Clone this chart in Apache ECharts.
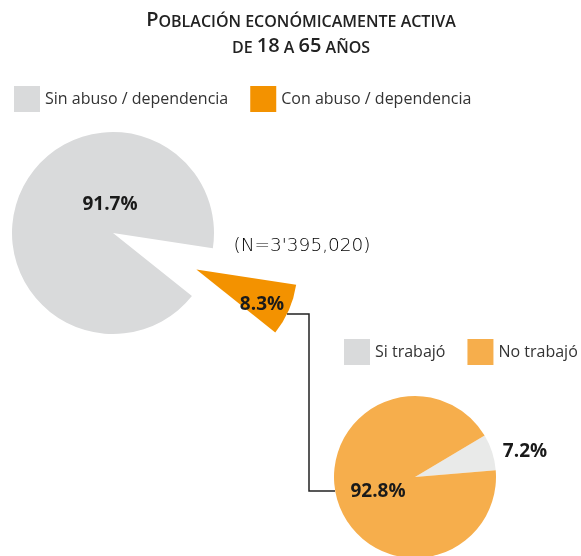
<!DOCTYPE html>
<html><head><meta charset="utf-8">
<script src="https://cdn.jsdelivr.net/npm/echarts@6/dist/echarts.min.js"></script>
<style>html,body{margin:0;padding:0;background:#fff}#c{width:581px;height:556px}</style>
</head><body><div id="c"></div>
<script>
const mainCategories = ['Sin abuso / dependencia', 'Con abuso / dependencia'];
const mainValues = [91.7, 8.3];
const subCategories = ['Si trabajó', 'No trabajó'];
const subValues = [7.2, 92.8];
const totalNote = "(N=3'395,020)";

const mainColors = ['#d9dadb', '#f39200'];
const subColors = ['#e9eae9', '#f6ae4c'];
const subLegendColors = ['#d9dadb', '#f6ae4c'];
const FONT = '"Open Sans", "Noto Sans", sans-serif';

const chart = echarts.init(document.getElementById('c'), null, {renderer: 'canvas'});
const labelStyle = {fontFamily: FONT, fontSize: 19, fontWeight: 'bold', fill: '#1a1a1a', textAlign: 'center', textVerticalAlign: 'middle'};

chart.setOption({
  animation: false,
  backgroundColor: '#fff',
  legend: [
    {
      left: 14, top: 86, padding: 0, width: 560, orient: 'horizontal', icon: 'rect', itemWidth: 26, itemHeight: 26, itemGap: 22,
      selectedMode: false,
      textStyle: {fontFamily: FONT, fontSize: 16, color: '#333'},
      data: mainCategories.map((n, i) => ({name: n, itemStyle: {color: mainColors[i]}}))
    },
    {
      left: 344, top: 339, padding: 0, width: 300, orient: 'horizontal', icon: 'rect', itemWidth: 26, itemHeight: 26, itemGap: 22,
      selectedMode: false,
      textStyle: {fontFamily: FONT, fontSize: 16, color: '#333'},
      data: subCategories.map((n, i) => ({name: n, itemStyle: {color: subLegendColors[i]}}))
    }
  ],
  series: [
    {
      type: 'pie', name: 'main', center: [113, 233], radius: 101, startAngle: -38.6,
      clockwise: true, selectedMode: 'single', selectedOffset: 91, avoidLabelOverlap: false,
      label: {show: false}, labelLine: {show: false}, emphasis: {disabled: true},
      data: mainCategories.map((n, i) => ({name: n, value: mainValues[i], selected: i === 1, itemStyle: {color: mainColors[i]}}))
    },
    {
      type: 'pie', name: 'sub', center: [415, 477], radius: 81, startAngle: 30.75,
      clockwise: true, label: {show: false}, labelLine: {show: false}, emphasis: {disabled: true},
      data: subCategories.map((n, i) => ({name: n, value: subValues[i], itemStyle: {color: subColors[i]}}))
    }
  ],
  graphic: [
    {
      type: 'text', x: 301, y: 30, z: 100,
      style: {
        text: '{b|P}{s|OBLACIÓN ECONÓMICAMENTE ACTIVA}\n{s|DE }{b|18}{s| A }{b|65}{s| AÑOS}',
        textAlign: 'center', textVerticalAlign: 'middle', fill: '#222',
        rich: {
          b: {fontFamily: FONT, fontSize: 20, fontWeight: 600, color: '#222', lineHeight: 26, verticalAlign: 'bottom'},
          s: {fontFamily: FONT, fontSize: 16, fontWeight: 600, color: '#222', lineHeight: 26, verticalAlign: 'bottom'}
        }
      }
    },
    {type: 'text', x: 302, y: 246, z: 100, style: {text: totalNote, fontFamily: '"DejaVu Sans", sans-serif', fontSize: 18.5, fontWeight: 200, fill: '#000', textAlign: 'center', textVerticalAlign: 'middle'}},
    {type: 'polyline', z: 50, shape: {points: [[287, 314], [309, 314], [309, 491], [335, 491]]}, style: {stroke: '#222', lineWidth: 1.5, fill: null}},
    {type: 'text', x: 110, y: 205, z: 100, style: Object.assign({text: mainValues[0].toFixed(1) + '%'}, labelStyle)},
    {type: 'text', x: 262, y: 305, z: 100, style: Object.assign({text: mainValues[1].toFixed(1) + '%'}, labelStyle)},
    {type: 'text', x: 525, y: 452, z: 100, style: Object.assign({text: subValues[0].toFixed(1) + '%'}, labelStyle)},
    {type: 'text', x: 378, y: 492, z: 100, style: Object.assign({text: subValues[1].toFixed(1) + '%'}, labelStyle)}
  ]
});
</script></body></html>
